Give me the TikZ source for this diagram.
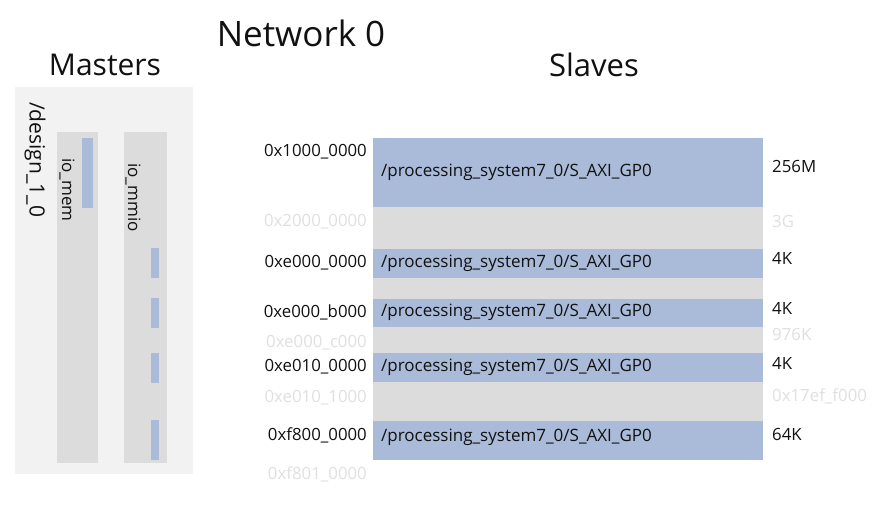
\documentclass[tikz,border=0pt]{standalone}
\usepackage{fontspec}
\setmainfont{Open Sans}
\definecolor{panel}{HTML}{F2F2F2}
\definecolor{colgray}{HTML}{DCDCDC}
\definecolor{blueseg}{HTML}{AABAD9}
\definecolor{faint}{HTML}{E0E0E0}
\definecolor{txt}{HTML}{111111}
\tikzset{
  seg/.style={draw=none, inner sep=0pt, outer sep=0pt},
  addr/.style={anchor=east, inner sep=0pt, font=\fontsize{16.8}{19}\selectfont, text=txt},
  faddr/.style={addr, text=faint},
  sname/.style={anchor=west, inner sep=0pt, font=\fontsize{17}{19}\selectfont, text=txt},
  ssize/.style={anchor=west, inner sep=0pt, font=\fontsize{16.8}{19}\selectfont, text=txt},
  fsize/.style={ssize, text=faint},
  head/.style={inner sep=0pt, font=\fontsize{31}{34}\selectfont, text=txt},
  vlabel/.style={rotate=-90, anchor=west, inner sep=0pt, text=txt},
}
\begin{document}
\begin{tikzpicture}[x=1pt,y=-1pt]
\useasboundingbox[fill=white] (0,0) rectangle (896,510);
% headings
\node[head, font=\fontsize{35}{38}\selectfont] (title) at (301,33) {Network 0};
\node[head, font=\fontsize{30}{34}\selectfont] (masters) at (105,65) {Masters};
\node[head] (slaves) at (594,65) {Slaves};
% masters panel
\fill[panel] (15,87) rectangle (193,474);
\node[vlabel, font=\fontsize{21}{24}\selectfont] (design) at (35,102) {/design\_1\_0};
\fill[colgray] (57,132) rectangle (98,463);
\fill[colgray] (124,132) rectangle (167,463);
\fill[blueseg] (82,138) rectangle (93,208);
\node[vlabel, font=\fontsize{17}{19}\selectfont] (iomem) at (67,158) {io\_mem};
\node[vlabel, font=\fontsize{17}{19}\selectfont] (iommio) at (133,163) {io\_mmio};
\fill[blueseg] (151,248) rectangle (159,278);
\fill[blueseg] (151,298) rectangle (159,328);
\fill[blueseg] (151,353) rectangle (159,383);
\fill[blueseg] (151,420) rectangle (159,460);
% slave segments
\fill[blueseg] (373,138) rectangle (763,207);
\fill[colgray] (373,207) rectangle (763,249);
\fill[blueseg] (373,249) rectangle (763,278);
\fill[colgray] (373,278) rectangle (763,299);
\fill[blueseg] (373,299) rectangle (763,327);
\fill[colgray] (373,327) rectangle (763,353);
\fill[blueseg] (373,353) rectangle (763,382);
\fill[colgray] (373,382) rectangle (763,421);
\fill[blueseg] (373,421) rectangle (763,460);
% addresses
\node[addr] (a1) at (367,152) {0x1000\_0000};
\node[faddr] (a2) at (367,222) {0x2000\_0000};
\node[addr] (a3) at (367,263) {0xe000\_0000};
\node[addr] (a4) at (367,312) {0xe000\_b000};
\node[faddr] (a5) at (367,343) {0xe000\_c000};
\node[addr] (a6) at (367,367) {0xe010\_0000};
\node[faddr] (a7) at (367,398) {0xe010\_1000};
\node[addr] (a8) at (367,435) {0xf800\_0000};
\node[faddr] (a9) at (367,474) {0xf801\_0000};
% names
\node[sname] (n1) at (381,172) {/processing\_system7\_0/S\_AXI\_GP0};
\node[sname] (n2) at (381,263) {/processing\_system7\_0/S\_AXI\_GP0};
\node[sname] (n3) at (381,312) {/processing\_system7\_0/S\_AXI\_GP0};
\node[sname] (n4) at (381,367) {/processing\_system7\_0/S\_AXI\_GP0};
\node[sname] (n5) at (381,437) {/processing\_system7\_0/S\_AXI\_GP0};
% sizes
\node[ssize] (s1) at (772,167) {256M};
\node[fsize] (s2) at (772,222) {3G};
\node[ssize] (s3) at (772,258) {4K};
\node[ssize] (s4) at (772,308) {4K};
\node[fsize] (s5) at (772,334) {976K};
\node[ssize] (s6) at (772,363) {4K};
\node[fsize] (s7) at (772,396) {0x17ef\_f000};
\node[ssize] (s8) at (772,434) {64K};
\end{tikzpicture}
\end{document}
